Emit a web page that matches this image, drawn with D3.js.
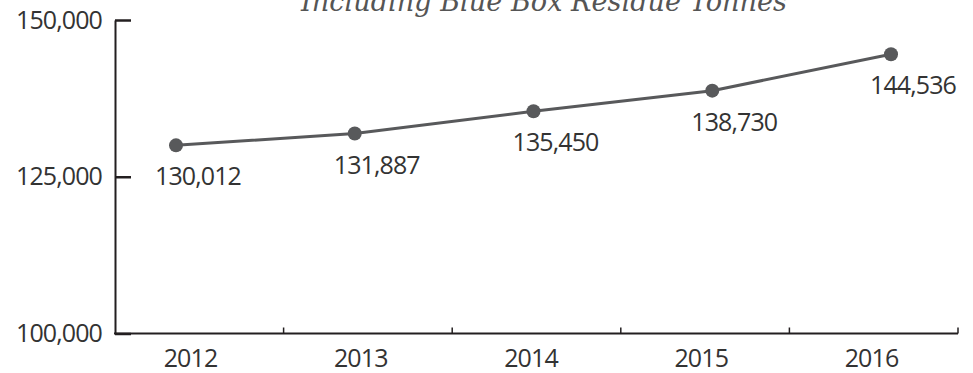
<!DOCTYPE html>
<html>
<head>
<meta charset="utf-8">
<script src="https://cdn.jsdelivr.net/npm/d3@7"></script>
<style>
  html, body { margin: 0; padding: 0; background: #fff; }
  svg { display: block; }
</style>
</head>
<body>
<svg id="chart" width="973" height="373"></svg>
<script>
// Annual tonnes, including blue box residue
const years = ["2012", "2013", "2014", "2015", "2016"];
const tonnes = [130012, 131887, 135450, 138730, 144536];
const yTicks = [100000, 125000, 150000];
const title = "Including Blue Box Residue Tonnes";

const W = 973, H = 373;
const margin = { top: 20, right: 15, bottom: 39.5, left: 115 };
const axisColor = "#231f20";
const markColor = "#58595b";
const textColor = "#333333";
const numFont = "'Open Sans', 'Noto Sans', sans-serif";
const numSize = 25;
const numSpacing = -0.9;

const svg = d3.select("#chart");

// category bands for the axis, a point scale for the markers
const xBand = d3.scaleBand().domain(years).range([margin.left, W - margin.right]);
const xPoint = d3.scalePoint().domain(years).range([176, 891]);
const xLabel = d3.scalePoint().domain(years).range([190, 871]);
const y = d3.scaleLinear().domain([100000, 150000]).range([H - margin.bottom, margin.top]);

const fmt = d3.format(",");

function numText(sel) {
  sel.attr("fill", textColor)
    .attr("font-family", numFont)
    .attr("font-weight", 400)
    .attr("font-size", numSize)
    .attr("letter-spacing", numSpacing);
}

// title (partly above the top edge)
const t = svg.append("text")
  .attr("x", 544).attr("y", 11)
  .attr("text-anchor", "middle")
  .attr("font-family", "'DejaVu Serif', serif")
  .attr("font-style", "italic")
  .attr("font-size", 22)
  .attr("fill", "#555")
  .text(title);
// fit title to its width
const tw = t.node().getComputedTextLength();
t.attr("font-size", 22 * 486 / tw);

// y axis
const yAxis = d3.axisLeft(y)
  .tickValues(yTicks)
  .tickFormat(fmt)
  .tickSizeInner(-16)
  .tickSizeOuter(0)
  .tickPadding(13);
const gy = svg.append("g")
  .attr("transform", `translate(${margin.left},0)`)
  .call(yAxis);
gy.select(".domain").attr("stroke", axisColor).attr("stroke-width", 2);
gy.selectAll(".tick line").attr("stroke", axisColor).attr("stroke-width", 2.5);
gy.selectAll(".tick text").call(numText);

// x axis line with boundary ticks
const y0 = y(100000);
svg.append("line")
  .attr("x1", margin.left - 1).attr("x2", W - margin.right)
  .attr("y1", y0).attr("y2", y0)
  .attr("stroke", axisColor).attr("stroke-width", 2);
const bounds = years.slice(1).map(d => xBand(d)).concat([xBand.range()[1]]);
svg.append("g").selectAll("line").data(bounds).join("line")
  .attr("x1", d => d).attr("x2", d => d)
  .attr("y1", y0).attr("y2", y0 - 6)
  .attr("stroke", axisColor).attr("stroke-width", 1.5);

// x labels
const xAxis = d3.axisBottom(xLabel).tickSize(0).tickPadding(16);
const gx = svg.append("g").attr("transform", `translate(0,${y0})`).call(xAxis);
gx.select(".domain").remove();
gx.selectAll(".tick text").call(numText);

// line
const line = d3.line().x((d, i) => xPoint(years[i])).y(d => y(d));
svg.append("path")
  .datum(tonnes)
  .attr("d", line)
  .attr("fill", "none")
  .attr("stroke", markColor)
  .attr("stroke-width", 3);

// markers
svg.append("g").selectAll("circle").data(tonnes).join("circle")
  .attr("cx", (d, i) => xPoint(years[i]))
  .attr("cy", d => y(d))
  .attr("r", 7)
  .attr("fill", markColor);

// value labels
svg.append("g").selectAll("text").data(tonnes).join("text")
  .attr("x", (d, i) => xPoint(years[i]) + 22)
  .attr("y", d => y(d) + 40)
  .attr("text-anchor", "middle")
  .call(numText)
  .text(d => fmt(d));
</script>
</body>
</html>
